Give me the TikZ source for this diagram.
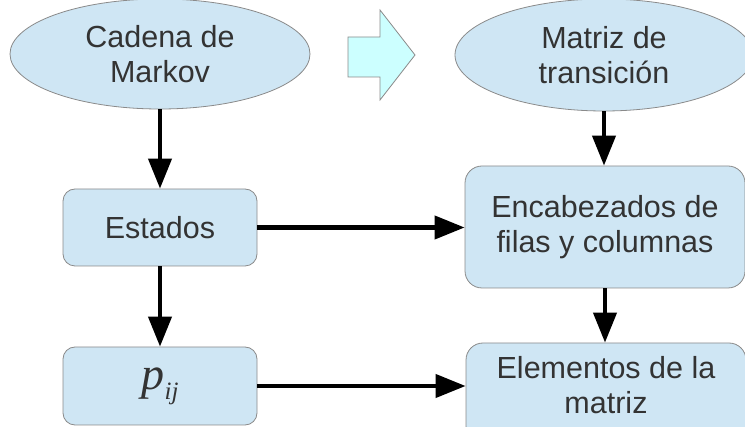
\documentclass[tikz,border=0pt]{standalone}
\usepackage{fontspec}
\setmainfont{Liberation Sans}
\newfontfamily\serifit{Liberation Serif}
\usetikzlibrary{shapes.geometric,arrows.meta}
\definecolor{boxfill}{HTML}{CFE6F4}
\definecolor{boxline}{HTML}{8A8A8A}
\definecolor{txt}{HTML}{333333}
\definecolor{bigarrow}{HTML}{CCFFFF}
\begin{document}
\begin{tikzpicture}[x=1pt,y=-1pt,
  every node/.style={text=txt,font=\fontsize{30.5}{35}\selectfont,align=center,inner sep=0pt},
  oval/.style={ellipse,draw=boxline,line width=0.8pt,fill=boxfill},
  rbox/.style={rectangle,draw=boxline,line width=0.8pt,fill=boxfill},
  conn/.style={line width=4.2pt,-{Triangle[length=30pt,width=23pt]}}]
\useasboundingbox (0,0) rectangle (745,427);
% ellipses
\node[oval,minimum width=300pt,minimum height=110pt] (m1) at (160,54) {Cadena de\\Markov};
\node[oval,minimum width=298pt,minimum height=112pt] (m2) at (604,55) {Matriz de\\transición};
% big block arrow
\draw[boxline,line width=0.8pt,fill=bigarrow]
  (348,37) -- (380,37) -- (380,10) -- (415,55) -- (380,100) -- (380,77) -- (348,77) -- cycle;
% boxes
\node[rbox,rounded corners=12pt,minimum width=194pt,minimum height=77pt] (est) at (160,227.5) {Estados};
\node[rbox,rounded corners=12pt,minimum width=194pt,minimum height=78pt] (pij) at (160,386)
  {{\serifit\itshape\fontsize{46}{46}\selectfont p}\raisebox{-10pt}{\serifit\itshape\fontsize{25}{25}\selectfont ij}};
\node[rbox,rounded corners=17pt,minimum width=280pt,minimum height=122pt] (enc) at (605,227) {Encabezados de\\filas y columnas};
\node[rbox,rounded corners=17pt,minimum width=280pt,minimum height=100pt] (ele) at (606,393) {};
\node (eleT) at (606,385) {Elementos de la\\matriz};
% connectors
\draw[conn] (m1.south) -- (est.north);
\draw[conn] (est.south) -- (pij.north);
\draw[conn] (m2.south) -- (m2.south |- enc.north);
\draw[conn] (enc.south) -- (enc.south |- ele.north);
\draw[conn] (est.east) -- (est.east -| enc.west);
\draw[conn] (pij.east) -- (pij.east -| ele.west);
\end{tikzpicture}
\end{document}
